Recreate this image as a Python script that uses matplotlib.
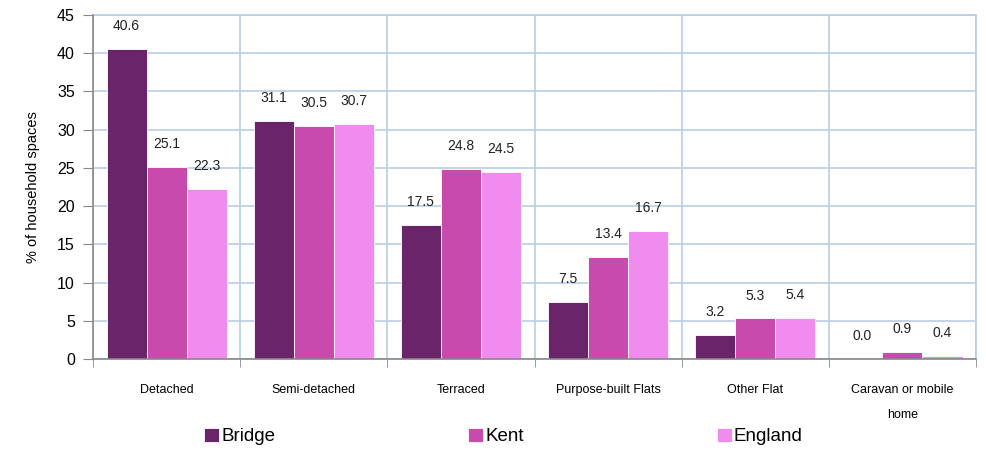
import matplotlib.pyplot as plt
import numpy as np

categories = ["Detached", "Semi-detached", "Terraced", "Purpose-built Flats",
              "Other Flat", "Caravan or mobile\nhome"]
bridge = [40.6, 31.1, 17.5, 7.5, 3.2, 0.0]
kent = [25.1, 30.5, 24.8, 13.4, 5.3, 0.9]
england = [22.3, 30.7, 24.5, 16.7, 5.4, 0.4]
series_names = ["Bridge", "Kent", "England"]
colours = ["#6a2469", "#c84aad", "#f08cef"]

plt.rcParams['font.family'] = ['Liberation Sans', 'DejaVu Sans']

fig = plt.figure(figsize=(9.87, 4.51), dpi=100)
ax = fig.add_axes([0.0942, 0.204, 0.8947, 0.7627])

x = np.arange(len(categories))
w = 0.272
handles = []
for i, (vals, col) in enumerate(zip([bridge, kent, england], colours)):
    pos = x + (i - 1) * w
    b = ax.bar(pos, vals, w, color=col, edgecolor="white", linewidth=0.6, zorder=3)
    handles.append(b)
    for p, v in zip(pos, vals):
        ax.text(p, v + 3.0, "%.1f" % v, ha="center", va="center", fontsize=10, color="#222222")

ax.set_xlim(-0.5, len(categories) - 0.5)
ax.set_ylim(0, 45)
ax.set_yticks(np.arange(0, 46, 5))
ax.set_xticks(x)
ax.set_xticklabels(categories, fontsize=9, linespacing=2.4)
ax.set_xticks(np.arange(-0.5, len(categories), 1), minor=True)
ax.tick_params(axis="x", which="major", length=0, pad=18)
ax.tick_params(axis="x", which="minor", length=6, direction="out", color="#888888")
ax.tick_params(axis="y", length=7, direction="out", color="#888888", labelsize=11.5, pad=6)

ax.grid(True, axis="y", color="#b9cde5", linewidth=1.2, zorder=0)
ax.grid(True, axis="x", which="minor", color="#b9cde5", linewidth=1.2, zorder=0)
for s in ["top", "right"]:
    ax.spines[s].set_color("#b9cde5")
    ax.spines[s].set_linewidth(1.2)
for s in ["left", "bottom"]:
    ax.spines[s].set_color("#888888")
    ax.spines[s].set_linewidth(1.2)
    ax.spines[s].set_zorder(4)

ax.set_ylabel("% of household spaces", fontsize=10.5, labelpad=12)

fig.legend(handles, series_names, loc="lower center", bbox_to_anchor=(0.51, -0.025),
           ncol=3, frameon=False, fontsize=13.5, handlelength=0.8, handleheight=0.8,
           handletextpad=0.1, columnspacing=10.3)

fig.savefig("out.png", dpi=100)
